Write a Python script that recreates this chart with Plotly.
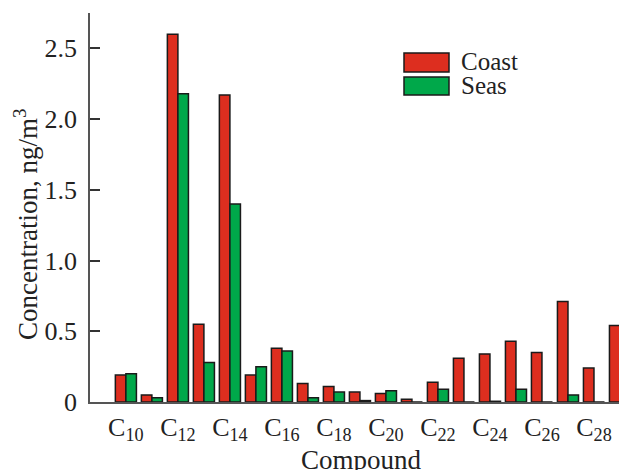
import plotly.graph_objects as go

compounds = ["C10", "C11", "C12", "C13", "C14", "C15", "C16", "C17", "C18", "C19",
             "C20", "C21", "C22", "C23", "C24", "C25", "C26", "C27", "C28", "C29"]
coast = [0.19, 0.05, 2.60, 0.55, 2.17, 0.19, 0.38, 0.13, 0.11, 0.07,
         0.06, 0.02, 0.14, 0.31, 0.34, 0.43, 0.35, 0.71, 0.24, 0.54]
seas = [0.20, 0.03, 2.18, 0.28, 1.40, 0.25, 0.36, 0.03, 0.07, 0.01,
        0.08, 0.0, 0.09, 0.0, 0.005, 0.09, 0.0, 0.05, 0.0, 0.0]
tick_labels = ["C<sub>10</sub>", "C<sub>12</sub>", "C<sub>14</sub>", "C<sub>16</sub>",
               "C<sub>18</sub>", "C<sub>20</sub>", "C<sub>22</sub>", "C<sub>24</sub>",
               "C<sub>26</sub>", "C<sub>28</sub>"]
y_ticks = [0, 0.5, 1.0, 1.5, 2.0, 2.5]
y_tick_text = ["0", "0.5", "1.0", "1.5", "2.0", "2.5"]

RED = "#DD2E1F"
GREEN = "#00A84A"
FONT = "Liberation Serif"
TXT = "#222222"

# the page places the figure 8 px in from the top-left corner
OFF = 8
W, H = 627 - OFF, 470 - OFF
L, T = 90 - OFF, 13 - OFF
BOTTOM = 402 - OFF
B = H - BOTTOM
pw, ph = W - L, BOTTOM - T


def px(x):
    return (x - OFF - L) / pw


def py(y):
    return (BOTTOM - (y - OFF)) / ph


fig = go.Figure()
fig.add_trace(go.Bar(x=compounds, y=coast, name="Coast",
                     marker=dict(color=RED, line=dict(color="#1a1a1a", width=1.5))))
fig.add_trace(go.Bar(x=compounds, y=seas, name="Seas",
                     marker=dict(color=GREEN, line=dict(color="#1a1a1a", width=1.5))))

fig.update_layout(
    width=W, height=H,
    margin=dict(l=L, r=0, t=T, b=B),
    paper_bgcolor="white", plot_bgcolor="white",
    barmode="group", bargap=0.19, bargroupgap=0,
    showlegend=False,
    font=dict(family=FONT, size=26, color=TXT),
    xaxis=dict(
        type="category",
        categoryorder="array", categoryarray=compounds,
        range=[-1.38, 19.27],
        tickvals=compounds[::2], ticktext=tick_labels,
        ticks="", showline=True, linecolor="#555555", linewidth=1.5,
        showgrid=False, zeroline=False,
        tickfont=dict(family=FONT, size=26, color=TXT),
        ticklabelstandoff=1,
    ),
    yaxis=dict(
        range=[0, 2.75],
        tickvals=y_ticks, ticktext=y_tick_text,
        ticks="inside", ticklen=10, tickwidth=1.5, tickcolor="#333333",
        showline=True, linecolor="#555555", linewidth=1.5,
        showgrid=False, zeroline=False,
        tickfont=dict(family=FONT, size=26, color=TXT),
        ticklabelstandoff=6,
    ),
)

# axis titles
fig.add_annotation(text="Compound", xref="paper", yref="paper",
                   x=px(361), y=py(443), xanchor="center", yanchor="top",
                   showarrow=False, font=dict(family=FONT, size=27, color=TXT))
fig.add_annotation(text="Concentration, ng/m<sup>3</sup>", xref="paper", yref="paper",
                   x=px(26), y=py(225), xanchor="center", yanchor="middle", textangle=-90,
                   showarrow=False, font=dict(family=FONT, size=27, color=TXT))

# legend
legend_items = [("Coast", RED, 53, 72), ("Seas", GREEN, 77, 95)]
for name, col, y0, y1 in legend_items:
    fig.add_shape(type="rect", xref="paper", yref="paper",
                  x0=px(404), x1=px(449), y0=py(y1), y1=py(y0),
                  fillcolor=col, line=dict(color="#1a1a1a", width=1.5))
    fig.add_annotation(text=name, xref="paper", yref="paper",
                       x=px(459), y=py((y0 + y1) / 2 - 1), xanchor="left", yanchor="middle",
                       showarrow=False, font=dict(family=FONT, size=25, color=TXT))

fig.write_html("out.html")
